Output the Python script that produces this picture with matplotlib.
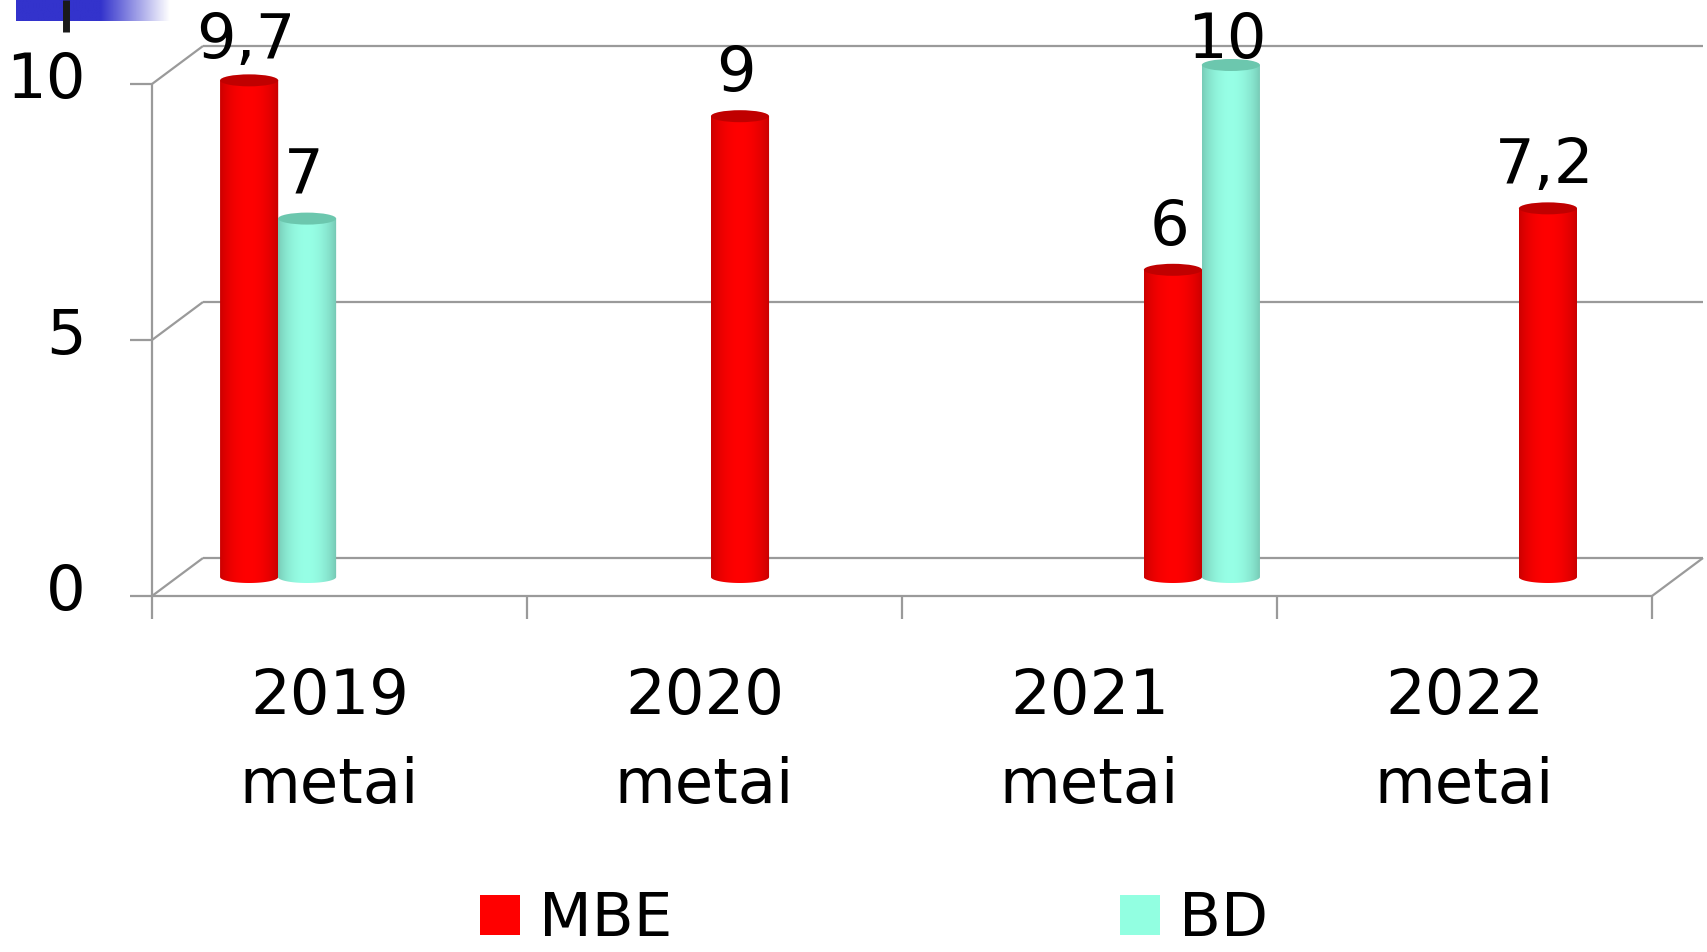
import numpy as np
import matplotlib
matplotlib.use('Agg')
import matplotlib.pyplot as plt
from matplotlib.patches import Ellipse, PathPatch, Patch
from matplotlib.path import Path

# ---------------- data ----------------
years = ['2019', '2020', '2021', '2022']
year_suffix = 'metai'
series_names = ['MBE', 'BD']
mbe = [9.7, 9, 6, 7.2]
bd = [7, None, 10, None]
y_ticks = [0, 5, 10]

# ---------------- layout / style ----------------
W, H = 1708, 952
PX_X0, PX_PER_X = 152, 375.0      # front plane: category axis origin / px per category
PX_Y0, PX_PER_Y = 596, 51.2       # front plane: value 0 / px per unit
DX = 51 / PX_PER_X                # depth offset (x, data units)
DY = 38 / PX_PER_Y                # depth offset (y, data units)
BASE = DY / 2                     # bars stand at mid depth
SLOT0, SLOT_STEP = 0.259, 0.1545  # series slot positions inside a category
mbe_slot = [0, 2, 3, 3]
bd_slot = [1, None, 4, None]
label_shift_px = [-10, -10, 0, 0]
BAR_W = 0.155
ELL_H = 12 / PX_PER_Y
GRID_C = '#9a9a9a'
GRID_LW = 1.6
FS = 45
LEG_FS = 44
RED = (1.0, 0.0, 0.0)
TEAL = (0.59, 1.0, 0.90)
RED_TOP = '#c00000'
TEAL_TOP = '#6cc7ae'
LEG_RED = '#ff0000'
LEG_TEAL = '#92ffe1'


def px(x, y):
    return (x - PX_X0) / PX_PER_X, (PX_Y0 - y) / PX_PER_Y


fig = plt.figure(figsize=(W / 100, H / 100), dpi=100)
ax = fig.add_axes([0, 0, 1, 1])
ax.axis('off')
ncat = len(years)

# ---------------- walls / grid ----------------
def seg(p, q, **kw):
    ax.plot([p[0], q[0]], [p[1], q[1]], color=GRID_C, lw=GRID_LW,
            solid_capstyle='butt', zorder=1, **kw)

for t in y_ticks:
    seg((0, t), (DX, t + DY))                  # left diagonal
    seg((DX, t + DY), (ncat + DX, t + DY))      # back wall line
    seg((-22 / PX_PER_X, t), (0, t))            # tick
seg((0, max(y_ticks)), (0, -23 / PX_PER_Y))     # value axis
seg((0, 0), (ncat, 0))                          # floor front edge
seg((ncat, 0), (ncat + DX, DY))                 # floor right edge
for i in range(1, ncat + 1):
    seg((i, 0), (i, -23 / PX_PER_Y))

# ---------------- tick labels ----------------
xl, _ = px(86, 0)
for t in y_ticks:
    ax.text(xl, t + 0.05, f'{t}', ha='right', va='center', fontsize=FS, zorder=5)
_, yb1 = px(0, 714)
_, yb2 = px(0, 803)
for i, yr in enumerate(years):
    xs = i + 0.5 + label_shift_px[i] / PX_PER_X
    ax.text(xs, yb1, yr, ha='center', va='baseline', fontsize=FS)
    ax.text(xs, yb2, year_suffix, ha='center', va='baseline', fontsize=FS)

# ---------------- cylinders ----------------
def cylinder(xc, v, color, top_color, edge=0.68):
    x0, x1 = xc - BAR_W / 2, xc + BAR_W / 2
    y0, y1 = BASE, BASE + v
    t = np.linspace(0, 1, 128)
    b = edge + (1 - edge) * np.sin(np.pi * (0.06 + 0.90 * t)) ** 0.6
    rgb = np.clip(np.array(color)[None, :] * b[:, None], 0, 1)
    im = ax.imshow(rgb[None, :, :], extent=[x0, x1, y0 - ELL_H / 2, y1],
                   aspect='auto', origin='lower', zorder=3,
                   interpolation='bilinear')
    th = np.linspace(np.pi, 2 * np.pi, 60)
    ex = xc + BAR_W / 2 * np.cos(th)
    ey = y0 + ELL_H / 2 * np.sin(th)
    verts = [(x0, y1)] + list(zip(ex, ey)) + [(x1, y1), (x0, y1)]
    codes = [Path.MOVETO] + [Path.LINETO] * (len(verts) - 2) + [Path.CLOSEPOLY]
    clip = PathPatch(Path(verts, codes), transform=ax.transData,
                     facecolor='none', edgecolor='none')
    ax.add_patch(clip)
    im.set_clip_path(clip)
    ax.add_patch(Ellipse((xc, y1), BAR_W, ELL_H, facecolor=top_color,
                         edgecolor='none', zorder=3.5))
    # data label
    _, ymax = px(0, 41)
    ly = min(y1 + 0.82, ymax)
    ax.text(xc - 0.01, ly, f'{v:g}'.replace('.', ','), ha='center', va='center',
            fontsize=FS, zorder=6)


for i in range(ncat):
    for vals, slots, col, topc in ((mbe, mbe_slot, RED, RED_TOP),
                                   (bd, bd_slot, TEAL, TEAL_TOP)):
        if vals[i] is None:
            continue
        xc = i + SLOT0 + slots[i] * SLOT_STEP
        cylinder(xc, vals[i], col, topc)

# ---------------- legend ----------------
handles = [Patch(facecolor=LEG_RED, edgecolor='none', label=series_names[0]),
           Patch(facecolor=LEG_TEAL, edgecolor='none', label=series_names[1])]
em = LEG_FS * 100 / 72
fig.legend(handles=handles, loc='center left', ncol=2, frameon=False,
           fontsize=LEG_FS, bbox_to_anchor=(480 / W, 1 - 920 / H),
           borderpad=0, borderaxespad=0, handlelength=40 / em,
           handleheight=38 / em, handletextpad=19 / em, columnspacing=448 / em)

# ---------------- slide decoration (top-left) ----------------
grad = np.ones((1, 200, 3))
s = np.linspace(0, 1, 200)
fade = np.clip((s - 0.55) / 0.45, 0, 1)
blue = np.array([0.2, 0.2, 0.8])
grad[0] = blue[None, :] * (1 - fade[:, None]) + fade[:, None]
gx0, gy0 = px(16, 21)
gx1, gy1 = px(170, 0)
ax.imshow(grad, extent=[gx0, gx1, gy0, gy1], aspect='auto', zorder=2,
          interpolation='bilinear')
lx, ly0 = px(66, 32)
_, ly1 = px(66, 0)
ax.plot([lx, lx], [ly0, ly1], color='#1a1a1a', lw=5, solid_capstyle='butt',
        zorder=2.5)

ax.set_xlim(-PX_X0 / PX_PER_X, (W - PX_X0) / PX_PER_X)
ax.set_ylim((PX_Y0 - H) / PX_PER_Y, PX_Y0 / PX_PER_Y)
ax.set_aspect('auto')

fig.savefig('out.png', dpi=100)
